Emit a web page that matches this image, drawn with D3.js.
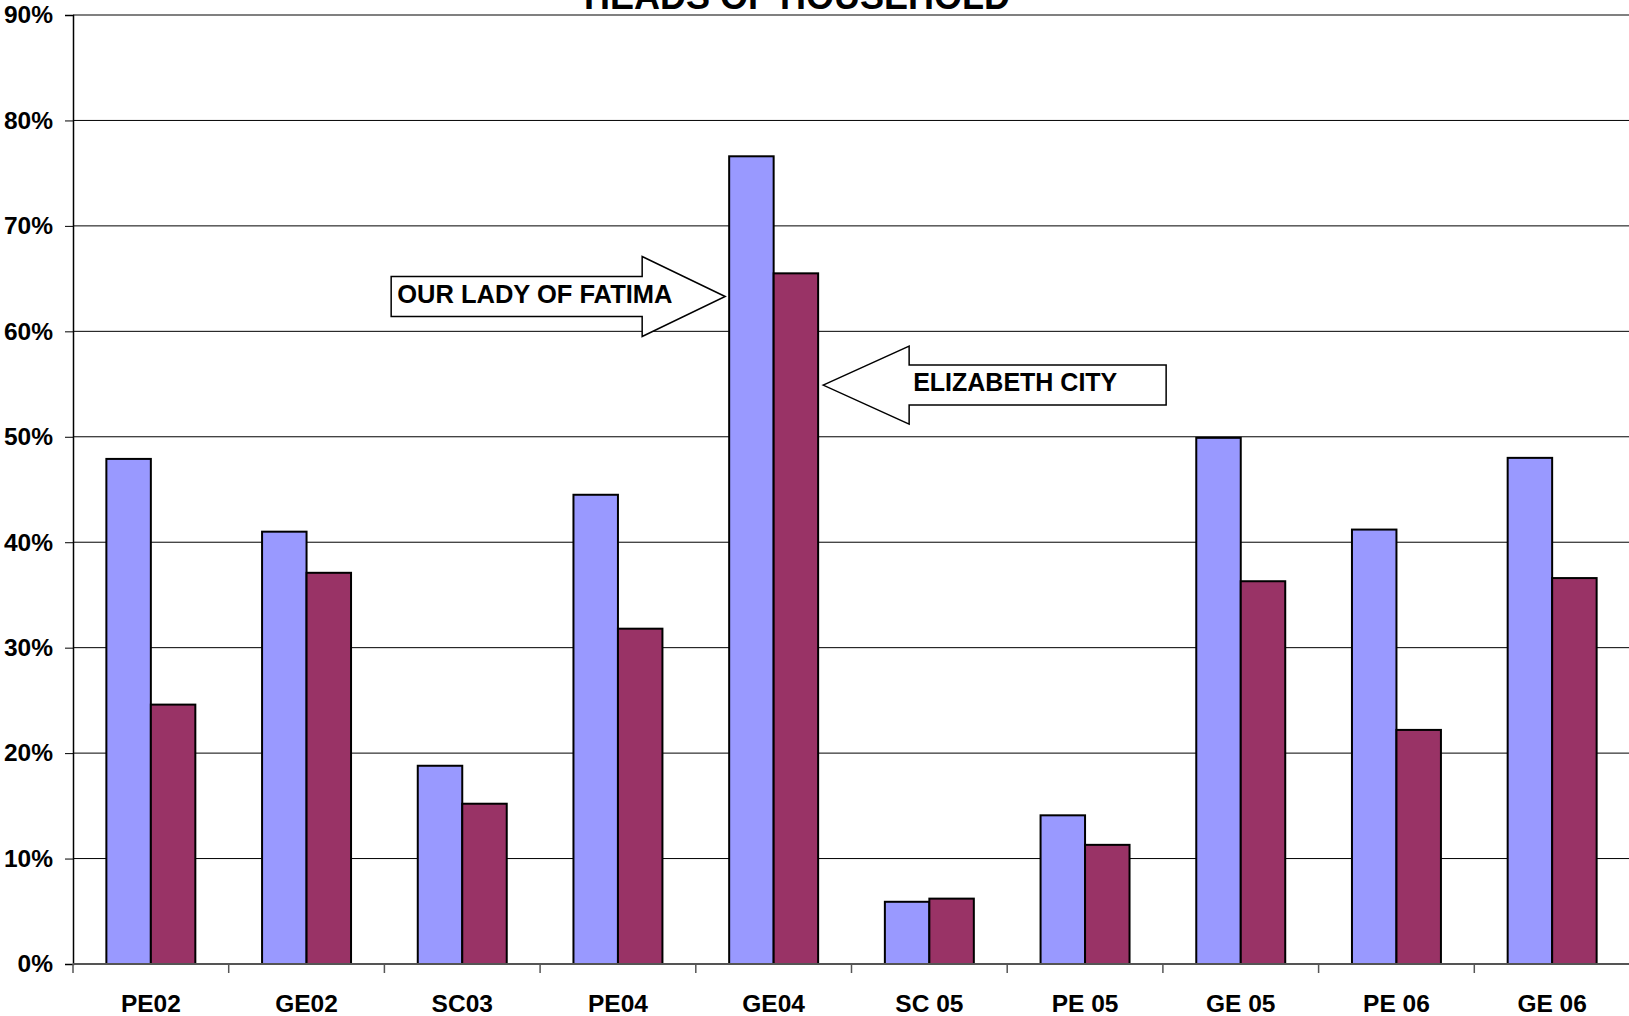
<!DOCTYPE html>
<html>
<head>
<meta charset="utf-8">
<script src="https://cdn.jsdelivr.net/npm/d3@7"></script>
<style>
  html, body { margin: 0; padding: 0; background: #fff; }
  svg { display: block; font-family: "Liberation Sans", Arial, sans-serif; }
</style>
</head>
<body>
<div id="chart"></div>
<script>
// -- Data -----------------------------------------------------------
var categories = ["PE02", "GE02", "SC03", "PE04", "GE04", "SC 05", "PE 05", "GE 05", "PE 06", "GE 06"];
var seriesA = [0.479, 0.410, 0.188, 0.445, 0.766, 0.059, 0.141, 0.499, 0.412, 0.480];
var seriesB = [0.246, 0.371, 0.152, 0.318, 0.655, 0.062, 0.113, 0.363, 0.222, 0.366];
var yTicks = [0, 0.1, 0.2, 0.3, 0.4, 0.5, 0.6, 0.7, 0.8, 0.9];
var title = "HEADS OF HOUSEHOLD";

// callouts: which bar they point at, and at what value
var callouts = [
  { text: "OUR LADY OF FATIMA", cat: "GE04", side: "left",  value: 0.633, size: 25.5 },
  { text: "ELIZABETH CITY",     cat: "GE04", side: "right", value: 0.549, size: 25 }
];

var COLORS = { a: "#9999ff", b: "#993366" };

// -- Layout ---------------------------------------------------------
var W = 1629, H = 1016;
var plot = { left: 73, right: 1630, top: 15, bottom: 964 };

var svg = d3.select("#chart").append("svg")
  .attr("width", W).attr("height", H);

var x = d3.scaleBand().domain(categories).range([plot.left, plot.right]).padding(0);
var xs = d3.scaleBand().domain(["a", "b"]).range([0, x.bandwidth()])
  .paddingInner(0).paddingOuter(0.75);
var y = d3.scaleLinear().domain([0, 0.9]).range([plot.bottom, plot.top]);

// gridlines
svg.append("g").selectAll("line")
  .data(yTicks.filter(function (d) { return d > 0; }))
  .join("line")
    .attr("x1", plot.left).attr("x2", W)
    .attr("y1", function (d) { return y(d); })
    .attr("y2", function (d) { return y(d); })
    .attr("stroke", function (d) { return d === 0.9 ? "#808080" : "#000"; })
    .attr("stroke-width", function (d) { return d === 0.9 ? 2 : 1; });

// bars
var rows = categories.map(function (c, i) { return { cat: c, a: seriesA[i], b: seriesB[i] }; });
var groups = svg.append("g").selectAll("g")
  .data(rows).join("g")
    .attr("transform", function (d) { return "translate(" + x(d.cat) + ",0)"; });

groups.selectAll("rect")
  .data(function (d) { return [{ k: "a", v: d.a }, { k: "b", v: d.b }]; })
  .join("rect")
    .attr("x", function (d) { return xs(d.k); })
    .attr("width", xs.bandwidth())
    .attr("y", function (d) { return y(d.v); })
    .attr("height", function (d) { return y(0) - y(d.v); })
    .attr("fill", function (d) { return COLORS[d.k]; })
    .attr("stroke", "#000")
    .attr("stroke-width", 2);

// y axis
var yAxis = d3.axisLeft(y).tickValues(yTicks)
  .tickFormat(d3.format(".0%")).tickSize(8).tickPadding(12);
var yG = svg.append("g").attr("transform", "translate(" + plot.left + ",0)").call(yAxis);
yG.select(".domain").attr("stroke", "#000").attr("stroke-width", 1.5);
yG.selectAll(".tick line").attr("stroke", "#000");
yG.selectAll("text")
  .attr("font-size", "24.5px").attr("font-weight", "bold").attr("fill", "#000")
  .attr("font-family", "'Liberation Sans', Arial, sans-serif");

// x axis (ticks at category boundaries)
svg.append("line")
  .attr("x1", plot.left).attr("x2", W)
  .attr("y1", plot.bottom).attr("y2", plot.bottom)
  .attr("stroke", "#555").attr("stroke-width", 2);

svg.append("g").selectAll("line")
  .data(categories)
  .join("line")
    .attr("x1", function (d) { return x(d); })
    .attr("x2", function (d) { return x(d); })
    .attr("y1", plot.bottom).attr("y2", plot.bottom + 9)
    .attr("stroke", "#555").attr("stroke-width", 1.5);

svg.append("g").selectAll("text")
  .data(categories)
  .join("text")
    .attr("x", function (d) { return x(d) + x.bandwidth() / 2; })
    .attr("y", 1012)
    .attr("text-anchor", "middle")
    .attr("font-size", "24.5px").attr("font-weight", "bold")
    .text(function (d) { return d; });

// title (cut off at the top edge, as in the original)
svg.append("text")
  .attr("x", 797).attr("y", 9)
  .attr("text-anchor", "middle")
  .attr("font-size", "36px").attr("font-weight", "bold")
  .text(title);

// -- Callout arrows -------------------------------------------------
function arrowPath(tx, ty, dir, headLen, bodyLen, headHalf, bodyHalf) {
  // dir = 1 points right (tip on the right), -1 points left
  var b = tx - dir * headLen, e = tx - dir * bodyLen;
  return [
    [tx, ty], [b, ty - headHalf], [b, ty - bodyHalf], [e, ty - bodyHalf],
    [e, ty + bodyHalf], [b, ty + bodyHalf], [b, ty + headHalf]
  ];
}

callouts.forEach(function (c) {
  var ty = y(c.value);
  var tx, pts, tX;
  if (c.side === "left") {
    tx = x(c.cat) + xs("a") - 4;
    pts = arrowPath(tx, ty, 1, 83, 334, 40, 20);
    tX = tx - 328;
  } else {
    tx = x(c.cat) + xs("b") + xs.bandwidth() + 5;
    pts = arrowPath(tx, ty, -1, 86, 343, 39, 20);
    tX = tx + 90;
  }
  svg.append("polygon")
    .attr("points", pts.map(function (p) { return p.join(","); }).join(" "))
    .attr("fill", "#fff").attr("stroke", "#000").attr("stroke-width", 1.5);
  svg.append("text")
    .attr("x", tX).attr("y", ty + 6)
    .attr("font-size", c.size + "px").attr("font-weight", "bold")
    .text(c.text);
});
</script>
</body>
</html>
